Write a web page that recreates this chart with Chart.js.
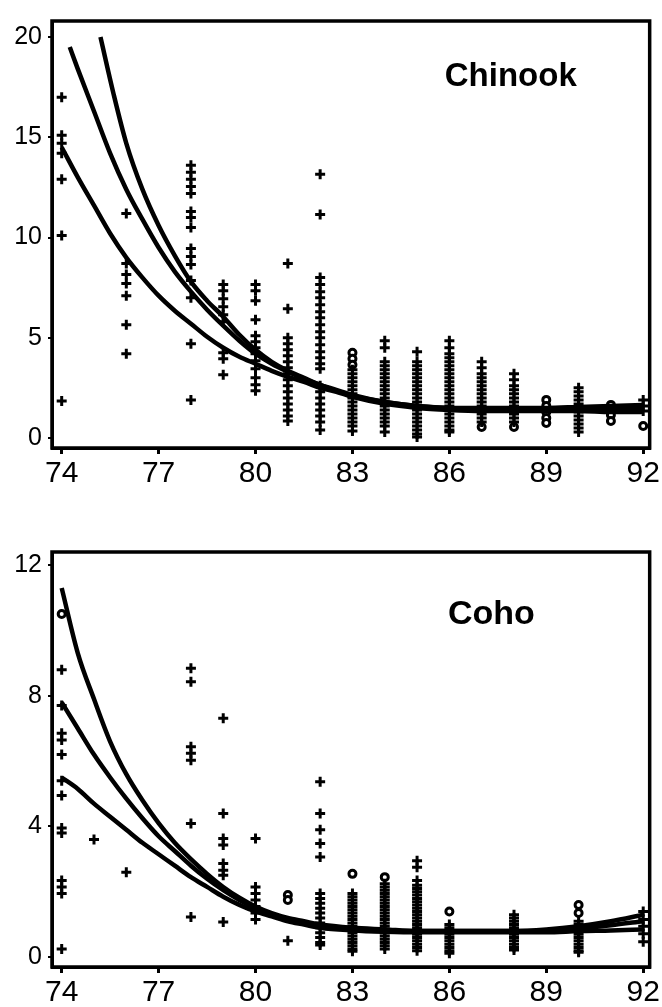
<!DOCTYPE html>
<html>
<head>
<meta charset="utf-8">
<script src="https://cdn.jsdelivr.net/npm/chart.js@4.4.1/dist/chart.umd.min.js"></script>
<style>
  body { margin: 0; background: #fff; }
  #top, #bottom { position: absolute; left: 0; width: 662px; }
  #top { top: 0; height: 500px; }
  #bottom { top: 500px; height: 507px; }
</style>
</head>
<body>
<div id="top"><canvas id="chinookChart" width="662" height="500"></canvas></div>
<div id="bottom"><canvas id="cohoChart" width="662" height="507"></canvas></div>
<script>
// tick labels
const xTicks = [74, 77, 80, 83, 86, 89, 92];
const chinookYTicks = [0, 5, 10, 15, 20];
const cohoYTicks = [0, 4, 8, 12];

// Chinook: observed values per year (crosses and circles)
const chinookCrossYears = [74, 76, 78, 79, 80, 81, 82, 83, 84, 85, 86, 87, 88, 90, 92];
const chinookCrossValues = [
  [17.0, 15.1, 14.7, 14.2, 12.9, 10.1, 1.85],
  [11.2, 8.7, 8.15, 7.7, 7.1, 5.65, 4.2],
  [13.6, 13.25, 12.9, 12.55, 12.2, 11.3, 11.0, 10.5, 9.45, 9.05, 8.65, 7.85, 7.0, 4.7, 1.9],
  [7.65, 7.35, 6.95, 6.55, 6.15, 5.8, 4.25, 3.95, 3.15],
  [7.65, 7.35, 6.85, 5.9, 5.1, 4.8, 4.5, 4.2, 3.85, 3.45, 3.0, 2.65, 2.35],
  [8.7, 6.45, 5.0, 4.7, 4.4, 4.1, 3.8, 3.5, 3.2, 2.9, 2.6, 2.3, 2.0, 1.7, 1.4, 1.1, 0.85],
  [13.15, 11.15, 8.0, 7.65, 7.3, 7.0, 6.65, 6.3, 6.0, 5.65, 5.3, 5.0, 4.65, 4.3, 4.0, 3.7, 3.45, 2.6, 2.3, 2.0, 1.7, 1.4, 1.1, 0.8, 0.4],
  [3.4, 3.2, 3.0, 2.8, 2.6, 2.4, 2.2, 2.0, 1.8, 1.6, 1.4, 1.2, 1.0, 0.8, 0.6, 0.35],
  [4.85, 4.5, 3.8, 3.6, 3.4, 3.2, 3.0, 2.8, 2.6, 2.4, 2.2, 2.0, 1.8, 1.6, 1.4, 1.2, 1.0, 0.8, 0.6, 0.3],
  [4.3, 3.8, 3.6, 3.4, 3.2, 3.0, 2.8, 2.6, 2.4, 2.2, 2.0, 1.8, 1.6, 1.4, 1.2, 1.0, 0.8, 0.6, 0.4, 0.2, 0.05],
  [4.85, 4.5, 4.2, 4.0, 3.8, 3.6, 3.4, 3.2, 3.0, 2.8, 2.6, 2.4, 2.2, 2.0, 1.8, 1.6, 1.4, 1.2, 1.0, 0.8, 0.6, 0.4, 0.3],
  [3.8, 3.5, 3.2, 3.0, 2.8, 2.6, 2.4, 2.2, 2.0, 1.8, 1.6, 1.4, 1.2, 1.0, 0.8],
  [3.2, 2.9, 2.6, 2.4, 2.2, 2.0, 1.8, 1.6, 1.4, 1.2, 1.0, 0.8],
  [2.5, 2.3, 2.1, 1.9, 1.7, 1.5, 1.3, 1.1, 0.9, 0.7, 0.5, 0.3],
  [1.9, 1.6, 1.35]
];
const chinookCircleYears = [83, 87, 88, 89, 91, 92];
const chinookCircleValues = [
  [4.25, 3.95, 3.65],
  [0.55],
  [0.55],
  [1.9, 1.6, 1.3, 1.0, 0.75],
  [1.65, 1.4, 1.15, 0.85],
  [0.6]
];

// Chinook fitted curves
const chinookUpperX = [75.2, 75.6, 76, 76.5, 77, 77.5, 78, 78.5, 79, 79.5, 80, 80.5, 81, 81.5, 82, 82.5, 83, 84, 85, 86, 87, 88, 89, 90, 91, 92];
const chinookUpper = [20, 17.2, 14.7, 12.4, 10.6, 9.1, 7.8, 6.85, 6.05, 5.15, 4.4, 3.8, 3.35, 3.0, 2.65, 2.35, 2.1, 1.8, 1.6, 1.5, 1.5, 1.5, 1.5, 1.55, 1.6, 1.65];
const chinookMiddleX = [74.25, 74.5, 75, 75.5, 76, 76.5, 77, 77.5, 78, 78.5, 79, 79.5, 80, 80.5, 81, 81.5, 82, 82.5, 83, 84, 85, 86, 87, 88, 89, 90, 91, 92];
const chinookMiddle = [19.5, 18.4, 16.3, 14.2, 12.4, 10.9, 9.5, 8.3, 7.3, 6.4, 5.6, 4.85, 4.2, 3.7, 3.3, 2.95, 2.65, 2.4, 2.15, 1.8, 1.6, 1.5, 1.45, 1.45, 1.45, 1.45, 1.5, 1.5];
const chinookLowerX = [74, 74.5, 75, 75.5, 76, 76.5, 77, 77.5, 78, 78.5, 79, 79.5, 80, 80.5, 81, 81.5, 82, 82.5, 83, 84, 85, 86, 87, 88, 89, 90, 91, 92];
const chinookLower = [14.5, 13.0, 11.6, 10.2, 9.0, 8.0, 7.1, 6.35, 5.7, 5.05, 4.5, 4.05, 3.7, 3.35, 3.05, 2.8, 2.5, 2.3, 2.05, 1.7, 1.5, 1.4, 1.35, 1.35, 1.35, 1.35, 1.3, 1.3];

// Coho: observed values per year
const cohoCrossYears = [74, 75, 76, 78, 79, 80, 81, 82, 83, 84, 85, 86, 88, 90, 92];
const cohoCrossValues = [
  [8.8, 7.7, 6.85, 6.65, 6.2, 5.4, 4.95, 3.95, 3.8, 2.35, 2.15, 1.95, 0.25],
  [3.6],
  [2.6],
  [8.84, 8.43, 6.44, 6.24, 6.03, 4.09, 1.23],
  [7.31, 4.4, 3.63, 3.43, 2.87, 2.66, 2.51, 1.08],
  [3.63, 2.15, 1.95, 1.75, 1.55, 1.35, 1.15],
  [0.5],
  [5.37, 4.4, 3.9, 3.48, 3.07, 1.95, 1.8, 1.65, 1.5, 1.35, 1.2, 1.05, 0.9, 0.75, 0.6, 0.45, 0.37],
  [1.95, 1.85, 1.75, 1.65, 1.55, 1.45, 1.35, 1.25, 1.15, 1.05, 0.95, 0.85, 0.75, 0.65, 0.55, 0.45, 0.35, 0.25, 0.18],
  [2.25, 2.15, 2.05, 1.95, 1.85, 1.75, 1.65, 1.55, 1.45, 1.35, 1.25, 1.15, 1.05, 0.95, 0.85, 0.75, 0.65, 0.55, 0.45, 0.35, 0.25],
  [2.95, 2.75, 2.35, 2.2, 2.1, 2.0, 1.9, 1.8, 1.7, 1.6, 1.5, 1.4, 1.3, 1.2, 1.1, 1.0, 0.9, 0.8, 0.7, 0.6, 0.5, 0.4, 0.3, 0.2],
  [1.0, 0.9, 0.8, 0.7, 0.6, 0.5, 0.4, 0.3, 0.2, 0.12],
  [1.3, 1.2, 1.1, 1.0, 0.9, 0.8, 0.7, 0.6, 0.5, 0.4, 0.3, 0.22],
  [1.1, 1.0, 0.9, 0.8, 0.7, 0.6, 0.5, 0.4, 0.3, 0.2, 0.15],
  [1.4, 1.15, 0.95, 0.72, 0.47]
];
const cohoCircleYears = [74, 81, 83, 84, 86, 90];
const cohoCircleValues = [
  [10.5],
  [1.9, 1.75],
  [2.55],
  [2.45],
  [1.4],
  [1.6, 1.35]
];

// Coho fitted curves
const cohoCurveX = [74, 74.5, 75, 75.5, 76, 76.5, 77, 77.5, 78, 78.5, 79, 79.5, 80, 80.5, 81, 81.5, 82, 83, 84, 85, 86, 87, 88, 89, 90, 91, 92];
const cohoUpper = [11.3, 9.3, 7.9, 6.6, 5.6, 4.8, 4.1, 3.5, 3.0, 2.55, 2.15, 1.82, 1.55, 1.35, 1.2, 1.1, 1.0, 0.9, 0.85, 0.8, 0.8, 0.8, 0.8, 0.85, 0.95, 1.1, 1.3];
const cohoMiddle = [7.8, 7.0, 6.2, 5.5, 4.85, 4.25, 3.7, 3.25, 2.8, 2.4, 2.05, 1.75, 1.5, 1.3, 1.15, 1.05, 0.95, 0.85, 0.8, 0.8, 0.8, 0.8, 0.8, 0.8, 0.88, 0.98, 1.1];
const cohoLower = [5.5, 5.15, 4.7, 4.3, 3.9, 3.5, 3.15, 2.8, 2.45, 2.15, 1.85, 1.6, 1.4, 1.25, 1.1, 1.0, 0.9, 0.82, 0.78, 0.76, 0.76, 0.76, 0.76, 0.76, 0.8, 0.82, 0.85];

// helpers to turn the arrays into {x, y} points
function columnPoints(years, values) {
  const pts = [];
  years.forEach((yr, i) => values[i].forEach(v => pts.push({ x: yr, y: v })));
  return pts;
}
function curvePoints(xs, ys) {
  return xs.map((x, i) => ({ x: x, y: ys[i] }));
}

function curve(xs, ys) {
  return {
    type: 'line',
    data: curvePoints(xs, ys),
    borderColor: '#000',
    borderWidth: 4.5,
    pointRadius: 0,
    fill: false,
    cubicInterpolationMode: 'monotone'
  };
}

// black frame around the plot area
const framePlugin = {
  id: 'frame',
  afterDraw(chart) {
    const { ctx, chartArea: a } = chart;
    ctx.save();
    ctx.strokeStyle = '#000';
    ctx.lineWidth = 3.5;
    ctx.strokeRect(a.left, a.top, a.right - a.left, a.bottom - a.top);
    ctx.restore();
  }
};

// panel name written inside the plot
const labelPlugin = {
  id: 'panelLabel',
  afterDatasetsDraw(chart, args, opts) {
    const { ctx, scales } = chart;
    ctx.save();
    ctx.fillStyle = '#000';
    ctx.font = opts.font;
    ctx.textAlign = 'center';
    ctx.textBaseline = 'middle';
    ctx.fillText(opts.text, scales.x.getPixelForValue(opts.x), scales.y.getPixelForValue(opts.y));
    ctx.restore();
  }
};

function makeChart(id, cfg) {
  const ctx = document.getElementById(id).getContext('2d');
  return new Chart(ctx, {
    type: 'scatter',
    data: {
      datasets: [
        curve(cfg.upperX, cfg.upper),
        curve(cfg.middleX, cfg.middle),
        curve(cfg.lowerX, cfg.lower),
        {
          data: cfg.crosses,
          pointStyle: 'cross',
          pointRadius: 5,
          borderColor: '#000',
          borderWidth: 3
        },
        {
          data: cfg.circles,
          pointStyle: 'circle',
          pointRadius: 3.5,
          borderColor: '#000',
          backgroundColor: '#fff',
          borderWidth: 3
        }
      ]
    },
    options: {
      responsive: false,
      animation: false,
      devicePixelRatio: 1,
      layout: { padding: cfg.padding },
      plugins: {
        legend: { display: false },
        tooltip: { enabled: false },
        panelLabel: cfg.label
      },
      scales: {
        x: {
          type: 'linear',
          min: 73.7,
          max: 92.2,
          afterBuildTicks: s => { s.ticks = xTicks.map(v => ({ value: v })); },
          afterFit: s => { s.height = cfg.xAxisHeight; },
          grid: { drawOnChartArea: false, drawTicks: true, tickLength: 6, color: '#000', lineWidth: 3 },
          border: { display: true, color: '#000', width: 3 },
          ticks: {
            color: '#000',
            padding: 2,
            maxRotation: 0,
            font: { family: "'Liberation Sans', Arial, sans-serif", size: 30 }
          }
        },
        y: {
          min: cfg.yMin,
          max: cfg.yMax,
          afterBuildTicks: s => { s.ticks = cfg.yTicks.map(v => ({ value: v })); },
          afterFit: s => { s.width = 52; },
          grid: { drawOnChartArea: false, drawTicks: true, tickLength: 4, color: '#000', lineWidth: 2 },
          border: { display: true, color: '#000', width: 3 },
          ticks: {
            color: '#000',
            padding: 6,
            font: { family: "'Liberation Sans', Arial, sans-serif", size: 25 }
          }
        }
      }
    },
    plugins: [framePlugin, labelPlugin]
  });
}

makeChart('chinookChart', {
  upperX: chinookUpperX, upper: chinookUpper,
  middleX: chinookMiddleX, middle: chinookMiddle,
  lowerX: chinookLowerX, lower: chinookLower,
  crosses: columnPoints(chinookCrossYears, chinookCrossValues),
  circles: columnPoints(chinookCircleYears, chinookCircleValues),
  yMin: -0.5, yMax: 20.8, yTicks: chinookYTicks,
  padding: { top: 10, right: 10, left: 0, bottom: 0 },
  xAxisHeight: 52,
  label: { text: 'Chinook', x: 87.9, y: 18.0, font: "bold 33px 'Liberation Sans', Arial, sans-serif" }
});

makeChart('cohoChart', {
  upperX: cohoCurveX, upper: cohoUpper,
  middleX: cohoCurveX, middle: cohoMiddle,
  lowerX: cohoCurveX, lower: cohoLower,
  crosses: columnPoints(cohoCrossYears, cohoCrossValues),
  circles: columnPoints(cohoCircleYears, cohoCircleValues),
  yMin: -0.3, yMax: 12.4, yTicks: cohoYTicks,
  padding: { top: 52, right: 9, left: 0, bottom: 0 },
  xAxisHeight: 40,
  label: { text: 'Coho', x: 87.3, y: 10.47, font: "bold 34px 'Liberation Sans', Arial, sans-serif" }
});
</script>
</body>
</html>
